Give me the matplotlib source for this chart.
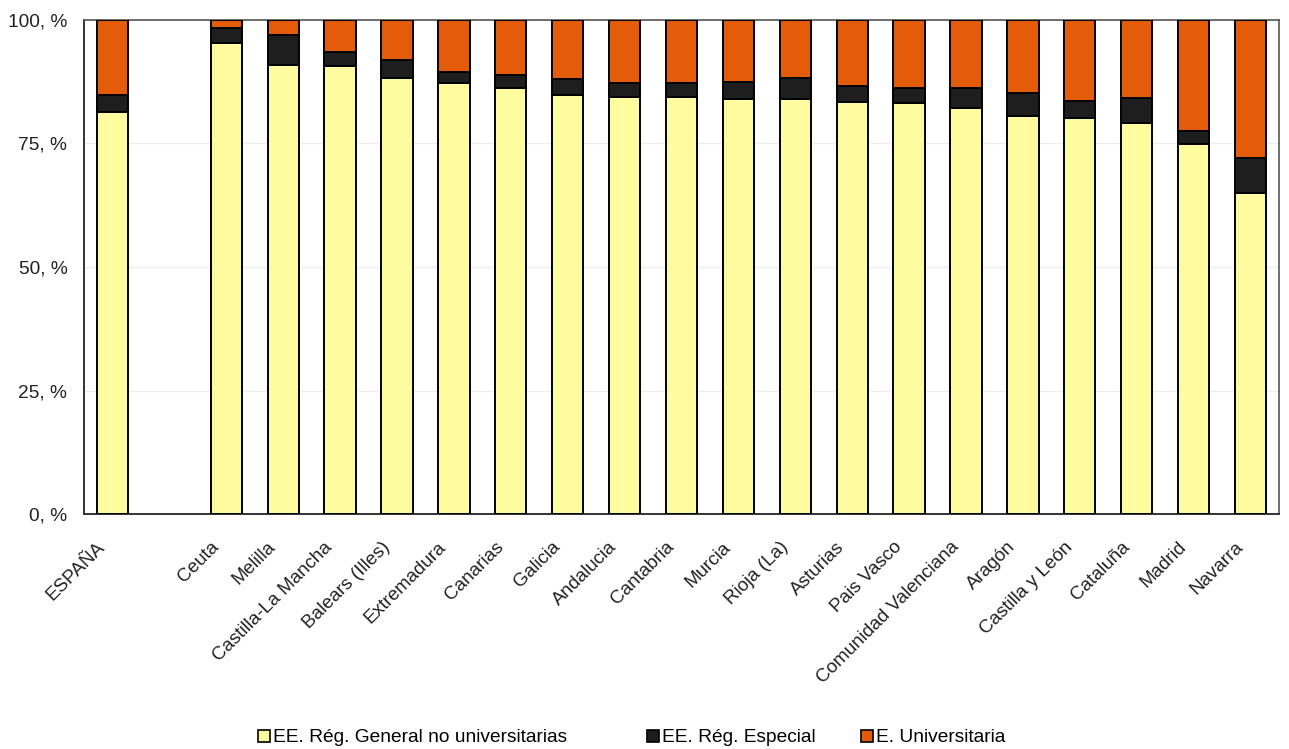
import matplotlib
matplotlib.use("Agg")
import matplotlib.pyplot as plt
import matplotlib.transforms as mtransforms
from matplotlib.patches import Patch
import numpy as np
from matplotlib.ticker import FixedLocator

plt.rcParams['font.family'] = ['Liberation Sans', 'DejaVu Sans']

categories = ["ESPAÑA", "", "Ceuta", "Melilla", "Castilla-La Mancha", "Balears (Illes)",
              "Extremadura", "Canarias", "Galicia", "Andalucia", "Cantabria", "Murcia",
              "Rioja (La)", "Asturias", "Pais Vasco", "Comunidad Valenciana", "Aragón",
              "Castilla y León", "Cataluña", "Madrid", "Navarra"]

general = [81.3, 0, 95.3, 90.9, 90.7, 88.3, 87.2, 86.2, 84.8, 84.5, 84.5, 84.1,
           84.1, 83.3, 83.1, 82.1, 80.6, 80.1, 79.1, 75.0, 64.9]
especial = [3.5, 0, 3.1, 6.1, 2.9, 3.7, 2.3, 2.7, 3.2, 2.7, 2.7, 3.3,
            4.2, 3.4, 3.1, 4.1, 4.7, 3.5, 5.2, 2.6, 7.2]
universitaria = [100 - g - e if g > 0 else 0 for g, e in zip(general, especial)]

series_labels = ["EE. Rég. General no universitarias", "EE. Rég. Especial", "E. Universitaria"]
colors = ["#FFFCA0", "#1E1E1E", "#E45C0A"]
yticks = [0, 25, 50, 75, 100]
ytick_labels = ["0, %", "25, %", "50, %", "75, %", "100, %"]

fig = plt.figure(figsize=(12.89, 7.49), dpi=100)
ax = fig.add_axes([84/1289, 1 - 514/749, (1279 - 84)/1289, (514 - 20)/749])

x = np.arange(len(categories))
mask = np.array([g > 0 for g in general])
g = np.array(general)
e = np.array(especial)
u = np.array(universitaria)
w = 0.55
ax.bar(x[mask], g[mask], w, color=colors[0], edgecolor="black", linewidth=1.4, zorder=3)
ax.bar(x[mask], e[mask], w, bottom=g[mask], color=colors[1],
       edgecolor="black", linewidth=1.4, zorder=3)
ax.bar(x[mask], u[mask], w, bottom=(g + e)[mask], color=colors[2],
       edgecolor="black", linewidth=1.4, zorder=3)

ax.set_xlim(-0.5, len(categories) - 0.5)
ax.set_ylim(0, 100)
ax.yaxis.set_major_locator(FixedLocator(yticks))
ax.set_yticklabels(ytick_labels, fontsize=13.8, color="#222222")
ax.tick_params(axis="y", length=0, pad=12)
ax.grid(axis="y", color="#eeeeee", linewidth=1, zorder=0)

ax.set_xticks(x)
ax.set_xticklabels(categories, rotation=45, ha="right", va="center", rotation_mode="anchor",
                   fontsize=13.6, color="#222222")
ax.tick_params(axis="x", length=0, pad=22)
offset = mtransforms.ScaledTranslation(-10/100, 0, fig.dpi_scale_trans)
for lbl in ax.get_xticklabels():
    lbl.set_transform(lbl.get_transform() + offset)

for side in ["top", "right"]:
    ax.spines[side].set_color("#555555")
    ax.spines[side].set_linewidth(1.2)
for side in ["left", "bottom"]:
    ax.spines[side].set_color("#333333")
    ax.spines[side].set_linewidth(1.4)

legend_x = [258/1289, 647/1289, 861/1289]
for lab, col, lx in zip(series_labels, colors, legend_x):
    h = Patch(facecolor=col, edgecolor="black", linewidth=1.2)
    fig.legend([h], [lab], loc="center left", bbox_to_anchor=(lx, 1 - 738/749),
               frameon=False, fontsize=13.8, handlelength=0.62, handleheight=0.62,
               handletextpad=0.15, borderpad=0, borderaxespad=0)

fig.savefig("out.png", dpi=100)
